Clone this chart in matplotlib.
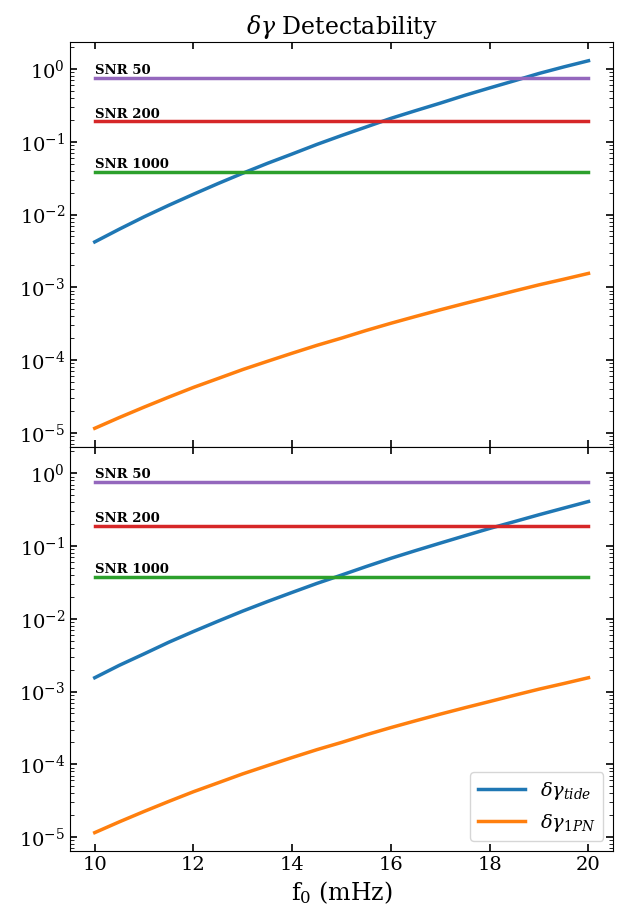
import numpy as np
import matplotlib
matplotlib.use('Agg')
import matplotlib.pyplot as plt

plt.rcParams['font.family'] = ['DejaVu Serif']
plt.rcParams['mathtext.fontset'] = 'dejavuserif'

# frequencies (mHz)
f0 = [10, 10.5, 11, 11.5, 12, 12.5, 13, 13.5, 14, 14.5, 15,
      15.5, 16, 16.5, 17, 17.5, 18, 18.5, 19, 19.5, 20]

# upper panel
tide_top = [4.2e-3, 6.3e-3, 9.3e-3, 1.34e-2, 1.9e-2, 2.67e-2, 3.7e-2, 5.06e-2, 6.8e-2, 9.2e-2, 0.122,
            0.16, 0.21, 0.268, 0.34, 0.436, 0.55, 0.69, 0.87, 1.07, 1.3]
pn_top = [1.15e-5, 1.62e-5, 2.25e-5, 3.09e-5, 4.2e-5, 5.57e-5, 7.4e-5, 9.6e-5, 1.24e-4, 1.59e-4, 2.0e-4,
          2.55e-4, 3.2e-4, 3.97e-4, 4.9e-4, 6.0e-4, 7.3e-4, 8.9e-4, 1.08e-3, 1.29e-3, 1.55e-3]

# lower panel
tide_bot = [1.55e-3, 2.3e-3, 3.3e-3, 4.77e-3, 6.7e-3, 9.3e-3, 1.28e-2, 1.73e-2, 2.31e-2, 3.07e-2, 4.0e-2,
            5.24e-2, 6.8e-2, 8.68e-2, 0.11, 0.139, 0.175, 0.217, 0.27, 0.333, 0.41]
pn_bot = [1.15e-5, 1.62e-5, 2.25e-5, 3.09e-5, 4.2e-5, 5.57e-5, 7.4e-5, 9.6e-5, 1.24e-4, 1.59e-4, 2.0e-4,
          2.55e-4, 3.2e-4, 3.97e-4, 4.9e-4, 6.0e-4, 7.3e-4, 8.9e-4, 1.08e-3, 1.29e-3, 1.55e-3]

snr_labels = ['SNR 50', 'SNR 200', 'SNR 1000']
snr_levels = [0.76, 0.19, 0.038]
snr_colors = ['#9467bd', '#d62728', '#2ca02c']

fig, axes = plt.subplots(2, 1, sharex=True, sharey=True, figsize=(6.2, 9.21), dpi=100)
fig.subplots_adjust(left=0.113, right=0.989, top=0.954, bottom=0.076, hspace=0)

for ax, tide, pn in zip(axes, [tide_top, tide_bot], [pn_top, pn_bot]):
    ax.plot(f0, tide, color='#1f77b4', lw=2.5, label=r'$\delta\gamma_{tide}$')
    ax.plot(f0, pn, color='#ff7f0e', lw=2.5, label=r'$\delta\gamma_{1PN}$')
    for lab, lev, col in zip(snr_labels, snr_levels, snr_colors):
        ax.plot([f0[0], f0[-1]], [lev, lev], color=col, lw=2.5)
        ax.text(f0[0], lev * 1.03, lab, fontsize=9.5, fontweight='bold',
                ha='left', va='bottom')
    ax.set_yscale('log')
    ax.tick_params(which='both', direction='in', top=True, right=True, labelsize=14)
    ax.tick_params(which='major', length=5, width=1.2)
    ax.tick_params(which='minor', length=3)

axes[0].set_title(r'$\delta\gamma$ Detectability', fontsize=17)
axes[1].set_xlabel(r'f$_0$ (mHz)', fontsize=17)
axes[1].set_xticks([10, 12, 14, 16, 18, 20])
axes[1].legend(loc='lower right', fontsize=14, handlelength=2.4)

plt.savefig('out.png', dpi=100)
